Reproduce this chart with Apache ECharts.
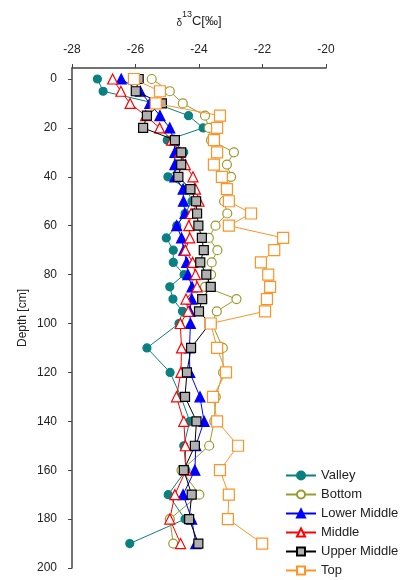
<!DOCTYPE html>
<html>
<head>
<meta charset="utf-8">
<script src="https://cdn.jsdelivr.net/npm/echarts@6/dist/echarts.min.js"></script>
<style>
html,body{margin:0;padding:0;background:#fff;}
#chart{width:408px;height:580px;}
</style>
</head>
<body>
<div id="chart"></div>
<script>
var depths = [0,5,10,15,20,25,30,35,40,45,50,55,60,65,70,75,80,85,90,95,100,110,120,130,140,150,160,170,180,190];
var valley = [-27.20,-27.02,-25.36,-24.33,-23.87,-25.00,-24.48,-24.51,-24.98,-24.38,-24.22,-24.44,-24.70,-25.03,-24.81,-24.81,-24.47,-24.92,-24.82,-24.52,-24.63,-25.64,-24.91,-24.57,-24.29,-24.48,-24.41,-24.97,-24.44,-26.18];
var bottom = [-25.49,-24.92,-24.51,-23.81,-23.69,-23.62,-22.90,-23.12,-22.99,-23.13,-23.21,-23.11,-23.48,-23.69,-23.42,-23.60,-23.62,-23.81,-22.82,-23.44,-23.59,-23.25,-23.24,-23.47,-23.52,-23.68,-24.55,-23.99,-24.92,-24.81];
var lowerMiddle = [-26.45,-25.85,-25.55,-25.23,-24.92,-24.79,-24.76,-24.76,-24.76,-24.50,-24.49,-24.44,-24.70,-24.55,-24.48,-24.39,-24.35,-24.22,-24.23,-24.29,-24.27,-24.30,-24.29,-23.97,-23.84,-24.10,-24.13,-24.50,-24.23,-24.10];
var middle = [-26.72,-26.46,-26.17,-25.68,-25.24,-24.86,-24.60,-24.43,-24.19,-24.11,-24.00,-24.25,-24.32,-24.29,-24.43,-24.20,-24.11,-24.06,-24.41,-24.34,-24.59,-24.55,-24.57,-24.71,-24.48,-24.43,-24.41,-24.76,-24.92,-24.58];
var upperMiddle = [-25.90,-25.99,-25.17,-25.64,-25.76,-24.76,-24.56,-24.56,-24.65,-24.27,-24.09,-24.06,-24.02,-23.91,-23.85,-23.96,-23.77,-23.63,-23.90,-24.00,-23.66,-24.25,-24.38,-24.44,-24.08,-24.13,-24.48,-24.23,-24.31,-24.02];
var top_ = [-26.05,-25.23,-25.36,-23.34,-23.43,-23.53,-23.43,-23.53,-23.28,-23.12,-23.06,-22.36,-23.06,-21.35,-21.63,-22.05,-21.82,-21.76,-21.86,-21.92,-23.63,-23.43,-23.15,-23.56,-23.43,-22.77,-23.34,-23.06,-23.09,-22.01];
var seriesNames = ['Valley','Bottom','Lower Middle','Middle','Upper Middle','Top'];
var depthTicks = [0,20,40,60,80,100,120,140,160,180,200];
var xTicks = [-28,-26,-24,-22,-20];

function pairs(vals){ return vals.map(function(v,i){ return [v, depths[i]]; }); }

var styles = [
  {line:'#0a8080', fill:'#0a8080', border:'#0a8080', symbol:'circle', size:8},
  {line:'#9a9a2e', fill:'#ffffff', border:'#9a9a2e', symbol:'circle', size:9},
  {line:'#0000ff', fill:'#0000ff', border:'#0000ff', symbol:'triangle', size:10},
  {line:'#ff0000', fill:'#ffffff', border:'#ff0000', symbol:'triangle', size:10},
  {line:'#000000', fill:'#b0b0b0', border:'#000000', symbol:'rect', size:9},
  {line:'#ff9326', fill:'#ffffff', border:'#ff9326', symbol:'rect', size:11}
];
var allVals = [valley, bottom, lowerMiddle, middle, upperMiddle, top_];

var series = allVals.map(function(vals, k){
  var s = styles[k];
  return {
    name: seriesNames[k],
    type: 'line',
    data: pairs(vals),
    symbol: s.symbol,
    symbolSize: s.size,
    showAllSymbol: true,
    lineStyle: {color: s.line, width: 1},
    itemStyle: {color: s.fill, borderColor: s.border, borderWidth: 1.2},
    emphasis: {disabled: true},
    animation: false,
    z: 2 + k
  };
});

var chart = echarts.init(document.getElementById('chart'), null, {renderer:'canvas'});
chart.setOption({
  animation: false,
  backgroundColor: '#ffffff',
  grid: {left: 72, right: 82, top: 68, bottom: 12, containLabel: false, outerBoundsMode: 'none'},
  legend: {
    orient: 'vertical',
    left: 285, top: 469,
    padding: 0,
    itemWidth: 30, itemHeight: 10,
    itemGap: 6,
    data: seriesNames,
    textStyle: {fontFamily: 'Liberation Sans, Arial', fontSize: 13, color: '#222', lineHeight: 13}
  },
  xAxis: {
    type: 'value',
    position: 'top',
    min: -28, max: -20, interval: 2,
    name: '{d|δ}{s|13}{c|C[‰]}',
    nameLocation: 'middle',
    nameGap: 40,
    nameMoveOverlap: false,
    nameTextStyle: {
      fontFamily: 'Liberation Sans, Arial', color: '#222',
      rich: {
        d: {fontSize: 10, fontFamily: 'Liberation Sans, Arial', color:'#222', verticalAlign:'bottom', lineHeight: 18},
        s: {fontSize: 9, fontFamily: 'Liberation Sans, Arial', color:'#222', verticalAlign:'top', lineHeight: 18},
        c: {fontSize: 13, fontFamily: 'Liberation Sans, Arial', color:'#222', verticalAlign:'bottom', lineHeight: 18}
      }
    },
    axisLine: {onZero: false, lineStyle: {color: '#444', width: 1.5}},
    axisTick: {show: true, inside: false, length: 4, lineStyle: {color: '#444'}},
    axisLabel: {margin: 12, fontFamily: 'Liberation Sans, Arial', fontSize: 12, color: '#222',
      customValues: xTicks},
    splitLine: {show: false}
  },
  yAxis: {
    type: 'value',
    inverse: true,
    min: -4.5, max: 200,
    name: 'Depth [cm]',
    nameLocation: 'middle',
    nameGap: 43,
    nameMoveOverlap: false,
    nameTextStyle: {fontFamily: 'Liberation Sans, Arial', fontSize: 12, color: '#222'},
    axisLine: {show: true, onZero: false, lineStyle: {color: '#444', width: 1.5}},
    axisTick: {show: true, inside: false, length: 4, lineStyle: {color: '#444'}, customValues: depthTicks},
    axisLabel: {margin: 15, fontFamily: 'Liberation Sans, Arial', fontSize: 12, color: '#222', customValues: depthTicks},
    splitLine: {show: false}
  },
  series: series
});
</script>
</body>
</html>
